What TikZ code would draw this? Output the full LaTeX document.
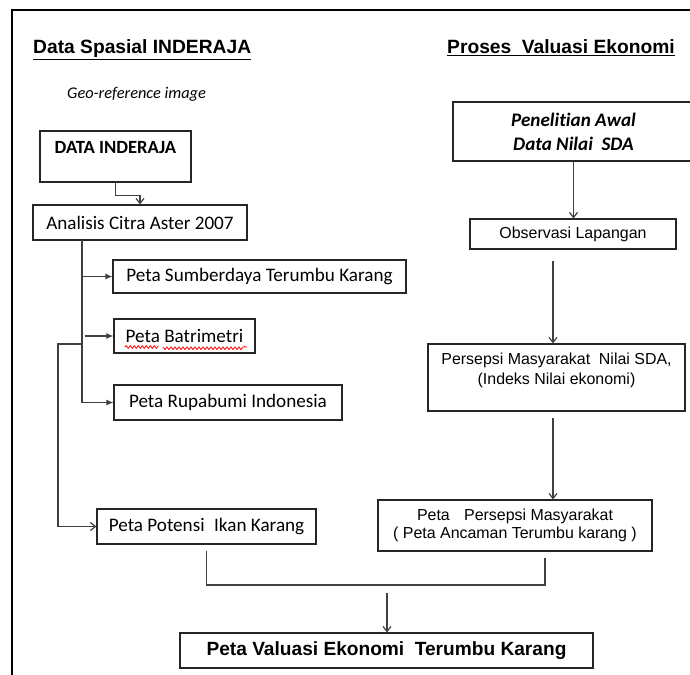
\documentclass[tikz,border=0pt]{standalone}
\usepackage{fontspec}
\setmainfont{Carlito}[Ligatures={NoCommon,NoContextual},Contextuals=NoAlternate]
\newfontfamily\arialfont{Liberation Sans}
\usetikzlibrary{arrows.meta,decorations.pathmorphing}

\begin{document}
\begin{tikzpicture}
[x=1bp,y=-1bp,
  boxdecorate/.style={draw=black!85,line width=1.2bp,inner sep=0pt,font=\fontsize{19.2}{23}\selectfont},
  rightdecorate/.style={boxdecorate,font=\arialfont\fontsize{16}{19.5}\selectfont,align=center},
  titledecorate/.style={inner sep=0pt,anchor=base west,font=\arialfont\bfseries\fontsize{19.3}{23}\selectfont},
  linedecorate/.style={draw=black!75,line width=1.2bp},
  tipdecorate/.style={linedecorate,-{Latex[length=7bp,width=6bp]}},
  opendecorate/.style={linedecorate,-{Straight Barb[length=5bp,width=8bp]}}]
\useasboundingbox (0,0) rectangle (690,675);
% frame
\draw[line width=2.8bp] (12,675) -- (12,10) -- (690,10);
% titles
\node (lefttitle) at (33,54) [titledecorate] {\underline{Data Spasial INDERAJA}};
\node (righttitle) at (447,54) [titledecorate] {\underline{Proses\hspace{0.55em}Valuasi Ekonomi}};
\node (geo) at (67,99) [anchor=base west,inner sep=0pt,font=\itshape\fontsize{16.4}{20}\selectfont] {Geo-reference image};
% nodes on the left
\node (dat) at (115.5,156.5) [boxdecorate,minimum width=151bp,minimum height=51bp] {};
\node (dattext) at ([yshift=8.5bp]dat.center) [inner sep=0pt,font=\bfseries\fontsize{18.7}{22}\selectfont] {DATA INDERAJA};
\node (ana) at (140,222.5) [boxdecorate,minimum width=214bp,minimum height=35bp] {Analisis Citra Aster 2007};
\node (sum) at (259.5,276.5) [boxdecorate,minimum width=293bp,minimum height=33bp] {Peta Sumberdaya Terumbu Karang};
\node (bat) at (184.5,336) [boxdecorate,minimum width=141bp,minimum height=34bp] {Peta Batrimetri};
\node (rup) at (228,402.5) [boxdecorate,minimum width=228bp,minimum height=35bp] {Peta Rupabumi Indonesia};
\node (pot) at (206.5,526.5) [boxdecorate,minimum width=219bp,minimum height=35bp] {Peta Potensi\hspace{0.5em}Ikan Karang};
% nodes on the right
\node (pen) at (573.5,131.5) [boxdecorate,minimum width=241bp,minimum height=59bp,align=center,
  font=\bfseries\itshape\fontsize{19.2}{24}\selectfont] {Penelit\kern0pt ian Awal\\Data Nilai\hspace{0.45em}SDA};
\node (obs) at (573,234) [rightdecorate,minimum width=206bp,minimum height=30bp] {Observasi Lapangan};
\node (per) at (556.5,377.5) [rightdecorate,minimum width=257bp,minimum height=67bp] {};
\node (pertext) at ([yshift=7.5bp]per.center) [inner sep=0pt,align=center,font=\arialfont\fontsize{16}{20}\selectfont]
  {Persepsi Masyarakat\hspace{0.55em}Nilai SDA,\\(Indeks Nilai ekonomi)};
\node (ppr) at (515,525.5) [rightdecorate,minimum width=274bp,minimum height=51bp,font=\arialfont\fontsize{16}{18.5}\selectfont]
  {Peta\hspace{0.9em}Persepsi Masyarakat\\( Peta Ancaman Terumbu karang )};
% final node
\node (val) at (386.5,650.5) [boxdecorate,minimum width=413bp,minimum height=35bp,
  font=\arialfont\bfseries\fontsize{19.2}{23}\selectfont] {Peta Valuasi Ekonomi\hspace{0.55em}Terumbu Karang};
% spelling mark under Batrimetri
\draw[red,line width=0.8bp,decorate,decoration={snake,amplitude=1.3bp,segment length=4bp}]
  (125,347) -- (157,347) (163,347) -- (247,347);
% helper points
\coordinate (trunk) at (82,240);
\coordinate (branch) at (82,344);
\coordinate (bend) at (58,344);
\coordinate (mergeleft) at ([yshift=-6bp]pot.south);
\coordinate (mergemid) at (545,585);
\coordinate (mergeright) at (545,558);
\coordinate (valin) at (387,593);
\coordinate (obsout) at (553,261);
\coordinate (perout) at (553,418);
% edges or lines
\draw[opendecorate] (dat.south) -- ++(0,13) -| (ana.north);
\draw[tipdecorate] (trunk) |- (rup.west);
\draw[tipdecorate] (trunk |- sum.west) -- (sum.west);
\draw[tipdecorate] ([xshift=-28bp]bat.west) -- (bat.west);
\draw[opendecorate] (branch) -- (bend) |- (pot.west);
\draw[linedecorate] (mergeleft) |- (mergemid) -- (mergeright);
\draw[opendecorate] (valin) -- (valin |- val.north);
\draw[opendecorate] (pen.south) -- (pen.south |- obs.north);
\draw[opendecorate] (obsout) -- (obsout |- per.north);
\draw[opendecorate] (perout) -- (perout |- ppr.north);
\end{tikzpicture}
\end{document}
